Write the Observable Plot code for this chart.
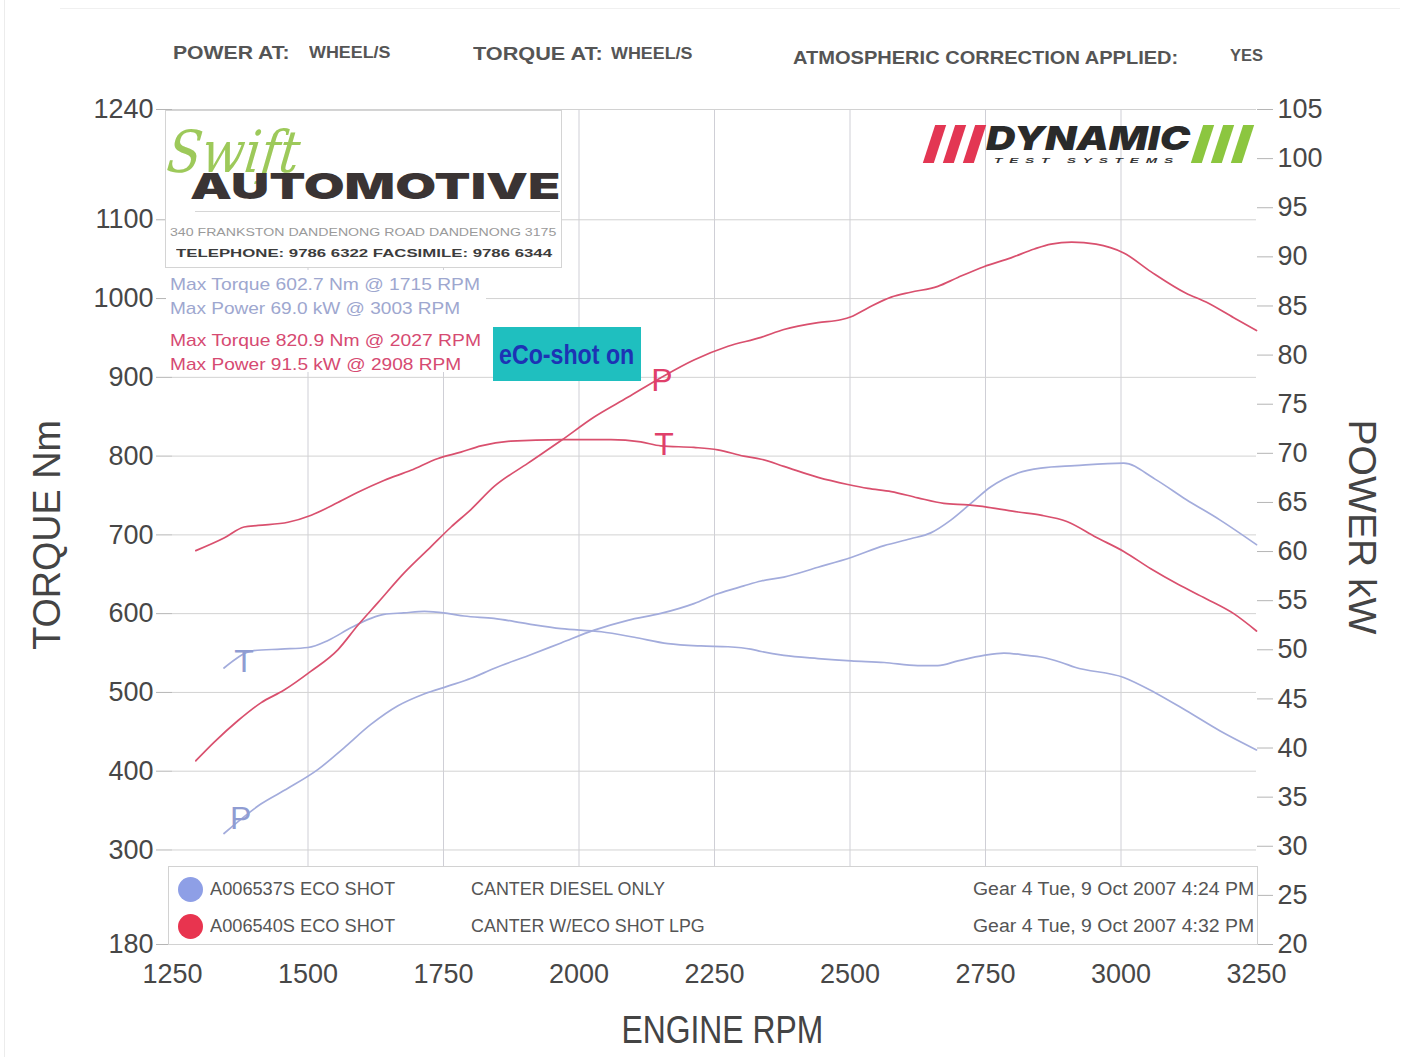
<!DOCTYPE html>
<html><head><meta charset="utf-8">
<script src="https://cdn.jsdelivr.net/npm/d3@7"></script>
<script src="https://cdn.jsdelivr.net/npm/@observablehq/plot@0.6"></script>
<style>
html,body{margin:0;padding:0;background:#fff;}
#wrap{position:relative;width:1416px;height:1057px;overflow:hidden;font-family:"Liberation Sans",Arial,sans-serif;}
#wrap svg{position:absolute;left:0;top:0;}
.t{position:absolute;white-space:nowrap;line-height:1;display:inline-block;}
.box{position:absolute;box-sizing:border-box;}
</style></head>
<body><div id="wrap"></div>
<script>
// ---- axes ----
const rpmTicks = [1250, 1500, 1750, 2000, 2250, 2500, 2750, 3000, 3250];
const torqueTicks = [180, 300, 400, 500, 600, 700, 800, 900, 1000, 1100, 1240];
const powerTicks = [20, 25, 30, 35, 40, 45, 50, 55, 60, 65, 70, 75, 80, 85, 90, 95, 100, 105];

// ---- red run: A006540S (eco shot on) ----
const redTorqueRpm = [1293,1345,1382,1408,1463,1506,1555,1592,1640,1690,1740,1782,1819,1874,1967,2059,2114,2151,2212,2256,2304,2336,2378,2441,2496,2533,2576,2625,2673,2718,2755,2810,2852,2900,2954,3005,3055,3106,3157,3208,3250];
const redTorque    = [680,696,710,712,716,725,741,754,769,782,797,805,813,819,821,821,818,813,811,808,800,796,787,773,764,759,755,747,740,738,735,729,725,717,697,679,657,637,619,600,578];
const redPowerRpm  = [1293,1327,1371,1413,1456,1505,1555,1592,1629,1677,1727,1764,1801,1843,1906,1967,2028,2090,2151,2212,2275,2336,2378,2441,2483,2502,2533,2576,2612,2662,2699,2747,2797,2840,2871,2909,2954,3005,3055,3120,3157,3208,3250];
const redPower     = [38.7,40.6,42.8,44.6,45.9,47.8,50.0,52.5,54.8,57.8,60.5,62.5,64.3,66.6,69.0,71.3,73.7,75.7,77.7,79.5,80.9,81.8,82.6,83.3,83.6,83.9,84.8,85.9,86.4,87.0,87.9,89.0,89.9,90.8,91.3,91.5,91.3,90.4,88.5,86.3,85.4,83.8,82.5];

// ---- blue run: A006537S (diesel only) ----
const blueTorqueRpm = [1345,1400,1450,1500,1537,1579,1616,1640,1677,1715,1760,1788,1843,1906,1967,2041,2102,2164,2225,2275,2317,2336,2378,2441,2502,2563,2625,2662,2699,2747,2784,2828,2852,2890,2915,3005,3062,3120,3183,3250];
const blueTorque    = [531,553,555,557,566,582,594,599,601,603,600,597,594,587,581,577,570,562,559,558,555,552,547,543,540,538,534,534,540,547,550,547,545,538,532,519,500,477,451,427];
const bluePowerRpm  = [1345,1413,1463,1518,1566,1616,1666,1714,1758,1801,1843,1906,1967,2028,2090,2151,2212,2256,2304,2336,2378,2441,2502,2563,2612,2649,2686,2723,2760,2810,2852,2915,3005,3062,3120,3183,3250];
const bluePower     = [31.3,34.3,35.9,37.8,40.0,42.4,44.3,45.5,46.3,47.1,48.1,49.4,50.7,52.0,53.0,53.7,54.7,55.7,56.5,57.0,57.4,58.4,59.4,60.6,61.3,61.9,63.2,64.9,66.6,68.0,68.5,68.75,69.0,67.4,65.3,63.2,60.7];

// ---- curve letter labels ----
const labelText = ["P", "T", "T", "P"];
const labelRun  = ["red", "red", "blue", "blue"];
const labelKind = ["power", "torque", "torque", "power"];
const labelRpm  = [2153, 2157, 1382, 1376];
const labelVal  = [77.4, 815, 539, 32.8];

// ---- legend / stats text ----
const legendIds   = ["A006537S ECO SHOT", "A006540S ECO SHOT"];
const legendDesc  = ["CANTER DIESEL ONLY", "CANTER W/ECO SHOT LPG"];
const legendDates = ["Gear 4 Tue, 9 Oct 2007 4:24 PM", "Gear 4 Tue, 9 Oct 2007 4:32 PM"];
const statsBlue = ["Max Torque 602.7 Nm @ 1715 RPM", "Max Power 69.0 kW @ 3003 RPM"];
const statsRed  = ["Max Torque 820.9 Nm @ 2027 RPM", "Max Power 91.5 kW @ 2908 RPM"];

const RED = "#d9506e", BLUE = "#a3acdc";
const RED_TXT = "#d64a72", BLUE_TXT = "#9ea7cf";

// power axis shares the frame with torque: 20 kW <-> 180 Nm, 105 kW <-> 1240 Nm
const T0 = 180, T1 = 1240, P0 = 20, P1 = 105;
const toT = p => T0 + (p - P0) * (T1 - T0) / (P1 - P0);
const toP = t => P0 + (t - T0) * (P1 - P0) / (T1 - T0);

const zip = (xs, ys) => xs.map((x, i) => ({rpm: x, v: ys[i]}));
const redT = zip(redTorqueRpm, redTorque);
const redP = zip(redPowerRpm, redPower);
const blueT = zip(blueTorqueRpm, blueTorque);
const blueP = zip(bluePowerRpm, bluePower);
const labels = labelText.map((t, i) => ({
  t, run: labelRun[i], rpm: labelRpm[i],
  y: labelKind[i] === "power" ? toT(labelVal[i]) : labelVal[i]
}));

const lineOpts = {x: "rpm", curve: "monotone-x", strokeWidth: 1.7};
const chart = Plot.plot({
  width: 1416, height: 1057,
  marginLeft: 172, marginRight: 160, marginTop: 109, marginBottom: 113,
  style: {background: "transparent", fontFamily: "Liberation Sans, Arial, sans-serif", color: "#474747"},
  x: {domain: [1250, 3250]},
  y: {domain: [T0, T1]},
  marks: [
    Plot.gridX(rpmTicks.slice(1, -1), {stroke: "#cfcfd6", strokeOpacity: 1}),
    Plot.gridY(torqueTicks.slice(1), {stroke: "#d2d2d2", strokeOpacity: 1}),
    Plot.axisX(rpmTicks, {tickSize: 0, tickPadding: 19, fontSize: 27, label: null, tickFormat: d => String(d)}),
    Plot.axisY(torqueTicks, {anchor: "left", tickSize: 16, tickPadding: 3, fontSize: 27, label: null,
      stroke: "#b5b5b5", fill: "#474747", tickFormat: d => String(d)}),
    Plot.axisY(powerTicks.map(toT), {anchor: "right", tickSize: 16, tickPadding: 5, fontSize: 27, label: null,
      stroke: "#b5b5b5", fill: "#474747", tickFormat: d => String(Math.round(toP(d)))}),
    Plot.line(blueT, {...lineOpts, y: "v", stroke: BLUE}),
    Plot.line(blueP, {...lineOpts, y: d => toT(d.v), stroke: BLUE}),
    Plot.line(redT, {...lineOpts, y: "v", stroke: RED}),
    Plot.line(redP, {...lineOpts, y: d => toT(d.v), stroke: RED}),
    Plot.text(labels.filter(d => d.run === "red"), {x: "rpm", y: "y", text: "t", fill: "#e0406a", fontSize: 32, fontFamily: "Liberation Sans, Arial"}),
    Plot.text(labels.filter(d => d.run === "blue"), {x: "rpm", y: "y", text: "t", fill: "#8f9cd2", fontSize: 32, fontFamily: "Liberation Sans, Arial"})
  ]
});
const wrap = document.getElementById("wrap");
wrap.appendChild(chart);

// ---- overlay helpers ----
function box(l, t, w, h, css) {
  const d = document.createElement("div");
  d.className = "box";
  Object.assign(d.style, {left: l + "px", top: t + "px", width: w + "px", height: h + "px"}, css || {});
  wrap.appendChild(d);
  return d;
}
function txt(s, o) {
  const e = document.createElement("span");
  e.className = "t";
  e.textContent = s;
  const size = o.size || 18;
  Object.assign(e.style, {fontSize: size + "px", color: o.color || "#555",
    fontWeight: o.weight || "normal", fontStyle: o.style || "normal",
    fontFamily: o.family || '"Liberation Sans", Arial, sans-serif',
    letterSpacing: (o.ls || 0) + "px"});
  wrap.appendChild(e);
  const nw = e.offsetWidth;
  const k = o.w ? o.w / nw : 1;
  e.style.top = (o.cy - 0.5 * size) + "px";
  if (o.rot) {
    e.style.left = (o.cx - nw / 2) + "px";
    e.style.transformOrigin = "50% 50%";
    e.style.transform = `rotate(${o.rot}deg) scaleX(${k})`;
  } else if (o.cx !== undefined) {
    e.style.left = (o.cx - nw / 2) + "px";
    e.style.transformOrigin = "50% 50%";
    e.style.transform = `scaleX(${k})${o.skew ? ` skewX(${o.skew}deg)` : ""}`;
  } else if (o.rx !== undefined) {
    e.style.left = (o.rx - nw) + "px";
    e.style.transformOrigin = "100% 50%";
    e.style.transform = `scaleX(${k})`;
  } else {
    e.style.left = o.x + "px";
    e.style.transformOrigin = "0 50%";
    e.style.transform = `scaleX(${k})${o.skew ? ` skewX(${o.skew}deg)` : ""}`;
  }
  return e;
}

// faint scan edges
box(4, 0, 1, 1057, {background: "#ececec"});
box(60, 8, 1340, 1, {background: "#f0f0f0"});

// header line
const HC = "#555";
txt("POWER AT:", {x: 173, cy: 52, w: 117, size: 19, color: HC, weight: "bold"});
txt("WHEEL/S", {x: 309, cy: 52, w: 81, size: 17, color: HC, weight: "bold"});
txt("TORQUE AT:", {x: 473, cy: 53, w: 130, size: 19, color: HC, weight: "bold"});
txt("WHEEL/S", {x: 611, cy: 53, w: 81, size: 17, color: HC, weight: "bold"});
txt("ATMOSPHERIC CORRECTION APPLIED:", {x: 793, cy: 57, w: 385, size: 19, color: HC, weight: "bold"});
txt("YES", {x: 1230, cy: 55, w: 33, size: 17, color: HC, weight: "bold"});

// axis titles
txt("TORQUE Nm", {cx: 47, cy: 535, w: 230, size: 38, color: "#444", rot: -90});
txt("POWER kW", {cx: 1362, cy: 527, w: 215, size: 38, color: "#444", rot: 90});
txt("ENGINE RPM", {cx: 722, cy: 1030, w: 202, size: 38, color: "#444"});

// Swift Automotive logo block
box(165, 110, 397, 158, {background: "#fff", border: "1px solid #d4d4d4"});
txt("Swift", {x: 168, cy: 152, w: 132, size: 58, color: "#9dc95a", style: "italic", family: '"DejaVu Serif", serif', skew: -8});
txt("AUTOMOTIVE", {x: 190, cy: 186, w: 370, size: 36, color: "#3a3434", weight: "900", family: "Inter, Roboto, sans-serif"});
box(195, 211, 365, 1, {background: "#d6d6d6"});
txt("340 FRANKSTON DANDENONG ROAD  DANDENONG 3175", {x: 170, cy: 233, w: 386, size: 10, color: "#9a9a9a"});
txt("TELEPHONE: 9786 6322  FACSIMILE: 9786 6344", {x: 176, cy: 254, w: 376, size: 10, color: "#3c3c3c", weight: "bold"});

// max stats
box(166, 270, 320, 102, {background: "#fff"});
txt(statsBlue[0], {x: 170, cy: 284, w: 310, size: 17, color: BLUE_TXT});
txt(statsBlue[1], {x: 170, cy: 308, w: 290, size: 17, color: BLUE_TXT});
txt(statsRed[0], {x: 170, cy: 340, w: 311, size: 17, color: RED_TXT});
txt(statsRed[1], {x: 170, cy: 364, w: 291, size: 17, color: RED_TXT});

// eCo-shot badge
box(493, 327, 148, 54, {background: "#1fbfbf"});
txt("eCo-shot on", {cx: 566, cy: 355, w: 135, size: 28, color: "#1d33b4", weight: "bold"});

// DYNAMIC logo
for (let i = 0; i < 3; i++) box(929 + i * 20, 125, 11, 38, {background: "#e33653", transform: "skewX(-18deg)"});
for (let i = 0; i < 3; i++) box(1197 + i * 20, 125, 11, 38, {background: "#8cc63f", transform: "skewX(-18deg)"});
txt("DYNAMIC", {x: 986, cy: 138, w: 204, size: 33, color: "#2a2a2a", weight: "900", style: "italic", family: "Inter, Roboto, sans-serif"});
txt("TEST SYSTEMS", {x: 994, cy: 161, w: 186, size: 8, color: "#333", weight: "bold", style: "italic", ls: 4});

// legend box
box(168, 866, 1090, 79, {background: "#fff", border: "1px solid #d2d2d2"});
const dotColors = ["#8e9fe6", "#e8344f"];
const rowY = [889, 926];
for (let i = 0; i < 2; i++) {
  box(178, rowY[i] - 12.5, 25, 25, {background: dotColors[i], borderRadius: "50%"});
  txt(legendIds[i], {x: 210, cy: rowY[i], w: 185, size: 18, color: "#555"});
  txt(legendDesc[i], {x: 471, cy: rowY[i], w: i ? 234 : 194, size: 18, color: "#555"});
  txt(legendDates[i], {rx: 1254, cy: rowY[i], w: 281, size: 18, color: "#555"});
}
</script>
</body></html>
